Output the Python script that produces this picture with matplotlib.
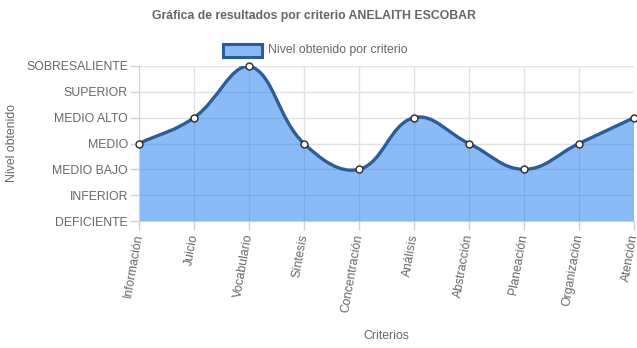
import numpy as np
import matplotlib.pyplot as plt
from matplotlib.path import Path
from matplotlib.patches import PathPatch, Rectangle

plt.rcParams['font.family'] = ['Liberation Sans', 'DejaVu Sans']

criterios = ['Información', 'Juicio', 'Vocabulario', 'Síntesis', 'Concentración',
             'Análisis', 'Abstracción', 'Planeación', 'Organización', 'Atención']
niveles = ['DEFICIENTE', 'INFERIOR', 'MEDIO BAJO', 'MEDIO', 'MEDIO ALTO',
           'SUPERIOR', 'SOBRESALIENTE']
valores = [3, 4, 6, 3, 2, 4, 3, 2, 3, 4]

W, H = 637, 348
fig = plt.figure(figsize=(W / 100, H / 100), dpi=100)
ax = fig.add_axes([139 / W, 1 - 221 / H, (634 - 139) / W, (221 - 66) / H])

x = np.arange(len(criterios))
y = np.array(valores, dtype=float)
ax.set_xlim(0, len(criterios) - 1)
ax.set_ylim(0, len(niveles) - 1)


def bezier_path(ax, x, y, t=0.4):
    # chart.js style spline, control points worked out in pixel space
    pts = ax.transData.transform(np.column_stack([x, y]))
    n = len(pts)
    verts = [pts[0]]
    ctrl_next = []
    ctrl_prev = []
    for i in range(n):
        p0 = pts[max(i - 1, 0)]
        p1 = pts[i]
        p2 = pts[min(i + 1, n - 1)]
        d01 = np.hypot(*(p1 - p0))
        d12 = np.hypot(*(p2 - p1))
        tot = d01 + d12
        s01 = d01 / tot if tot else 0
        s12 = d12 / tot if tot else 0
        cp = p1 - t * s01 * (p2 - p0)
        cn = p1 + t * s12 * (p2 - p0)
        ctrl_prev.append(cp)
        ctrl_next.append(cn)
    ctrl_prev = np.array(ctrl_prev)
    ctrl_next = np.array(ctrl_next)
    bb = ax.bbox
    for c in (ctrl_prev, ctrl_next):
        c[:, 1] = np.clip(c[:, 1], bb.y0, bb.y1)
    codes = [Path.MOVETO]
    for i in range(1, n):
        verts += [ctrl_next[i - 1], ctrl_prev[i], pts[i]]
        codes += [Path.CURVE4] * 3
    inv = ax.transData.inverted()
    return inv.transform(np.array(verts)), codes


verts, codes = bezier_path(ax, x, y)
fill_verts = np.vstack([verts, [[x[-1], 0], [x[0], 0], [x[0], y[0]]]])
fill_codes = codes + [Path.LINETO, Path.LINETO, Path.CLOSEPOLY]
ax.add_patch(PathPatch(Path(fill_verts, fill_codes), facecolor=(22 / 255, 120 / 255, 240 / 255, 0.5),
                       edgecolor='none', zorder=2))
ax.add_patch(PathPatch(Path(verts, codes), facecolor='none', edgecolor='#2c5d96',
                       linewidth=2.4, zorder=3, capstyle='round', joinstyle='round'))
ax.plot(x, y, 'o', markersize=5, markerfacecolor='white', markeredgecolor='#2a2a2a',
        markeredgewidth=1, zorder=4, clip_on=False)

ax.set_yticks(range(len(niveles)))
ax.set_yticklabels(niveles)
ax.set_xticks(x)
ax.set_xticklabels(criterios, rotation=80, ha='right', va='center', rotation_mode='anchor')
ax.tick_params(axis='both', colors='#d0d0d0', labelcolor='#666666', labelsize=8.8,
               length=6.5, width=1, pad=1.5)
ax.tick_params(axis='x', pad=3)
ax.grid(True, color='#e2e2e2', linewidth=1)
ax.set_axisbelow(True)
for s in ['top', 'right']:
    ax.spines[s].set_visible(False)
for s in ['left', 'bottom']:
    ax.spines[s].set_color('#d0d0d0')

fig.text(12 / W, 1 - 143 / H, 'Nivel obtenido', rotation=90, ha='center', va='center',
         fontsize=8.8, color='#666666')
fig.text(386 / W, 1 - 336 / H, 'Criterios', ha='center', va='center',
         fontsize=8.8, color='#666666')
fig.text(314 / W, 1 - 16 / H, 'Gráfica de resultados por criterio ANELAITH ESCOBAR',
         ha='center', va='center', fontsize=8.8, fontweight='bold', color='#666666')

fig.patches.append(Rectangle((223 / W, 1 - 57 / H), 39 / W, 13 / H, transform=fig.transFigure,
                             facecolor=(22 / 255, 120 / 255, 240 / 255, 0.5),
                             edgecolor='#2c5d96', linewidth=2.2))
fig.text(268 / W, 1 - 50 / H, 'Nivel obtenido por criterio', ha='left', va='center',
         fontsize=8.8, color='#666666')

fig.savefig('out.png', dpi=100)
